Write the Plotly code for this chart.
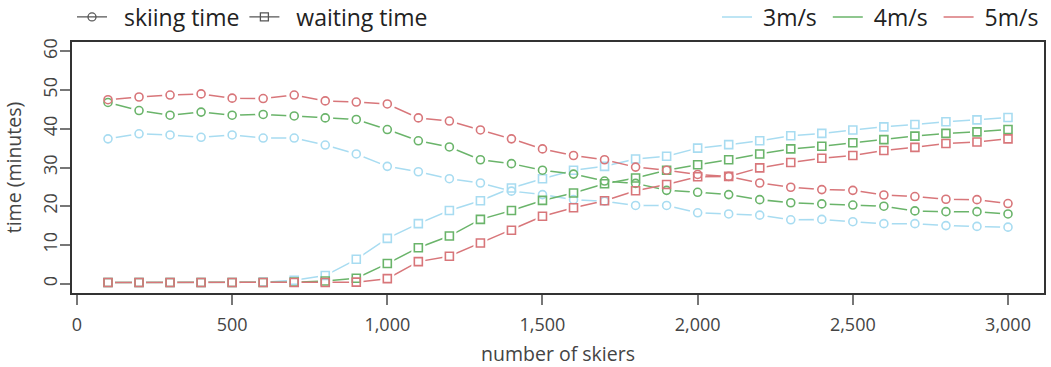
import plotly.graph_objects as go

skiers = [100, 200, 300, 400, 500, 600, 700, 800, 900, 1000,
          1100, 1200, 1300, 1400, 1500, 1600, 1700, 1800, 1900, 2000,
          2100, 2200, 2300, 2400, 2500, 2600, 2700, 2800, 2900, 3000]

ski_3 = [37.4, 38.7, 38.4, 37.8, 38.4, 37.6, 37.6, 35.8, 33.5, 30.3,
         28.9, 27.1, 26.0, 23.9, 23.0, 21.7, 21.3, 20.2, 20.2, 18.3,
         18.0, 17.7, 16.5, 16.6, 16.0, 15.5, 15.5, 15.0, 14.8, 14.6]
ski_4 = [46.8, 44.7, 43.5, 44.3, 43.5, 43.7, 43.3, 42.8, 42.4, 39.8,
         36.9, 35.3, 32.0, 31.0, 29.3, 28.3, 26.5, 25.9, 24.1, 23.6,
         23.0, 21.7, 20.9, 20.6, 20.3, 20.0, 18.8, 18.6, 18.6, 18.0]
ski_5 = [47.5, 48.2, 48.7, 49.0, 47.9, 47.8, 48.7, 47.2, 46.9, 46.4,
         42.8, 42.0, 39.7, 37.4, 34.8, 33.1, 32.0, 30.1, 29.3, 28.2,
         27.7, 26.0, 24.9, 24.3, 24.1, 22.9, 22.5, 21.8, 21.7, 20.7]

wait_3 = [0.3, 0.3, 0.3, 0.3, 0.3, 0.4, 0.9, 2.1, 6.3, 11.7,
          15.5, 18.9, 21.4, 24.7, 27.1, 29.3, 30.3, 32.2, 32.9, 35.0,
          35.9, 36.9, 38.2, 38.8, 39.7, 40.5, 41.1, 41.8, 42.3, 42.9]
wait_4 = [0.3, 0.3, 0.3, 0.3, 0.3, 0.3, 0.4, 0.7, 1.4, 5.2,
          9.3, 12.3, 16.6, 18.9, 21.5, 23.4, 25.8, 27.3, 29.3, 30.7,
          32.0, 33.5, 34.8, 35.5, 36.4, 37.2, 38.1, 38.8, 39.2, 39.8]
wait_5 = [0.3, 0.3, 0.3, 0.3, 0.3, 0.3, 0.3, 0.3, 0.4, 1.3,
          5.7, 7.1, 10.5, 13.8, 17.4, 19.6, 21.4, 24.0, 25.6, 27.6,
          27.7, 29.9, 31.3, 32.4, 33.1, 34.4, 35.2, 36.2, 36.6, 37.4]

speeds = ["3m/s", "4m/s", "5m/s"]
colors = ["#a8dcf1", "#6ab46a", "#d8767a"]
ski = [ski_3, ski_4, ski_5]
wait = [wait_3, wait_4, wait_5]
type_labels = ["skiing time", "waiting time"]

x_ticks = [0, 500, 1000, 1500, 2000, 2500, 3000]
x_ticktext = ["0", "500", "1,000", "1,500", "2,000", "2,500", "3,000"]
y_ticks = [0, 10, 20, 30, 40, 50, 60]

FONT = "Open Sans"
NB = "\u00a0"
fig = go.Figure()

# connecting lines
for s, c, y1, y2 in zip(speeds, colors, ski, wait):
    for yy in (y1, y2):
        fig.add_trace(go.Scatter(x=skiers, y=yy, mode="lines",
                                 line=dict(color=c, width=1.5),
                                 showlegend=False, hoverinfo="skip"))
# white pads -> gaps around points (R type="b")
for y1, y2 in zip(ski, wait):
    fig.add_trace(go.Scatter(x=skiers, y=y1, mode="markers",
                             marker=dict(symbol="circle", size=16, color="white", line=dict(width=0)),
                             showlegend=False, hoverinfo="skip"))
    fig.add_trace(go.Scatter(x=skiers, y=y2, mode="markers",
                             marker=dict(symbol="square", size=14, color="white", line=dict(width=0)),
                             showlegend=False, hoverinfo="skip"))
# point markers
for s, c, y1, y2 in zip(speeds, colors, ski, wait):
    fig.add_trace(go.Scatter(x=skiers, y=y1, mode="markers",
                             marker=dict(symbol="circle-open", size=8, color=c, line=dict(width=1.6)),
                             showlegend=False, name=s + " skiing"))
    fig.add_trace(go.Scatter(x=skiers, y=y2, mode="markers",
                             marker=dict(symbol="square-open", size=8, color=c, line=dict(width=1.6)),
                             showlegend=False, name=s + " waiting"))

# legend 1: measure type
for nm, sym in zip(type_labels, ("circle-open", "square-open")):
    fig.add_trace(go.Scatter(x=[None], y=[None], mode="lines+markers", name=NB + NB + nm,
                             line=dict(color="#555555", width=1.3),
                             marker=dict(symbol=sym, size=8, color="#555555", line=dict(width=1.3)),
                             legend="legend"))
# legend 2: speeds
for i, (s, c) in enumerate(zip(speeds, colors)):
    label = NB + s + (NB if i < len(speeds) - 1 else "")
    fig.add_trace(go.Scatter(x=[None], y=[None], mode="lines", name=label,
                             line=dict(color=c, width=1.6), legend="legend2"))

legend_y = 1.0996
fig.update_layout(
    width=1051, height=367,
    margin=dict(l=72, r=7, t=42, b=74, autoexpand=False),
    paper_bgcolor="white", plot_bgcolor="white",
    font=dict(family=FONT, color="#333333"),
    legend=dict(orientation="h", x=0.0, xanchor="left",
                y=legend_y, yanchor="middle",
                font=dict(size=23, color="#222222"), itemwidth=30,
                bgcolor="rgba(0,0,0,0)"),
    legend2=dict(orientation="h", x=1.0, xanchor="right",
                 y=legend_y, yanchor="middle",
                 font=dict(size=23, color="#222222"), itemwidth=30,
                 bgcolor="rgba(0,0,0,0)"),
    xaxis=dict(range=[-16, 3116], tickvals=x_ticks, ticktext=x_ticktext,
               ticks="outside", ticklen=10, tickcolor="#777777", tickwidth=1.5,
               ticklabelstandoff=4,
               showline=True, linecolor="#333333", linewidth=2, mirror=True,
               showgrid=False, zeroline=False,
               tickfont=dict(size=18, color="#444444"),
               title=dict(text="number of skiers", font=dict(size=19.5, color="#444444"), standoff=13)),
    yaxis=dict(range=[-2.4, 62.4], tickvals=y_ticks, tickangle=-90,
               ticks="outside", ticklen=10, tickcolor="#777777", tickwidth=1.5,
               ticklabelstandoff=-4,
               showline=True, linecolor="#333333", linewidth=2, mirror=True,
               showgrid=False, zeroline=False,
               tickfont=dict(size=18, color="#444444"),
               title=dict(text="time (minutes)", font=dict(size=19.5, color="#444444"), standoff=11)),
)

fig.write_html("out.html", config={"displayModeBar": False},
               post_script="document.body.style.margin='0';")
